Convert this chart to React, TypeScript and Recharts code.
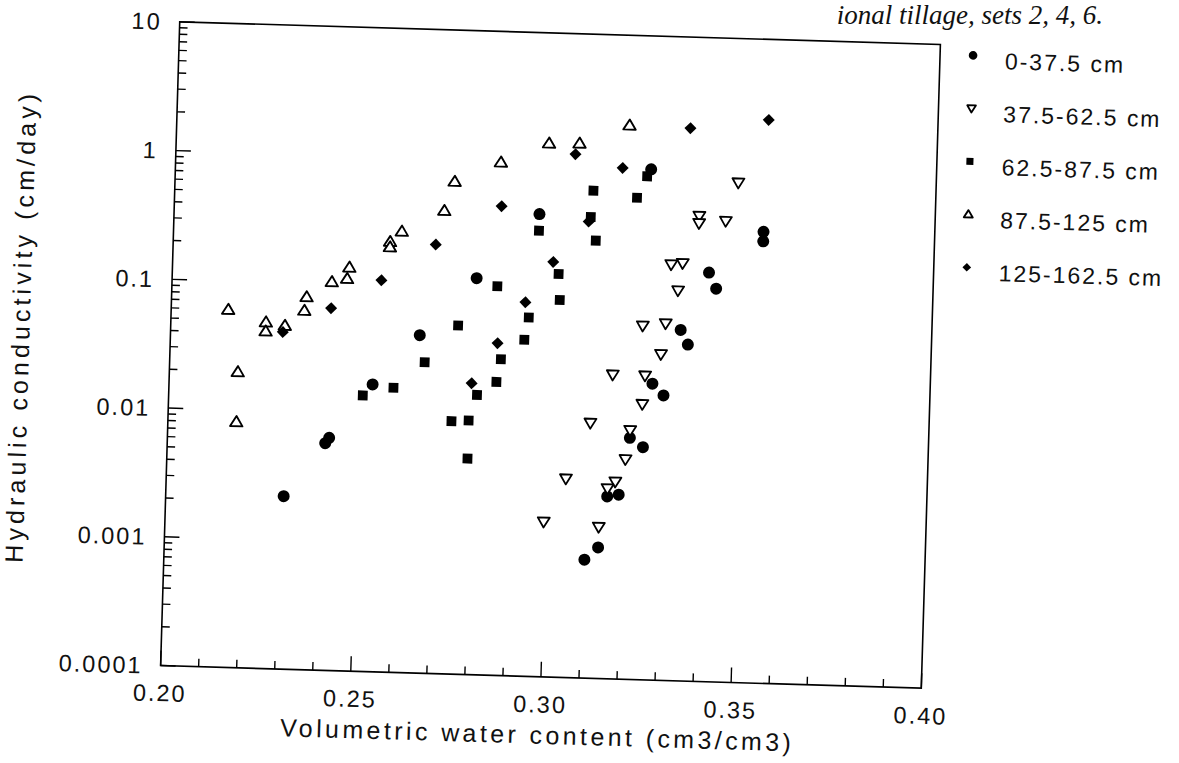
import React from 'react';
import { ScatterChart, Scatter, XAxis, YAxis, ReferenceArea, Legend } from 'recharts';

const FONT = '"Liberation Sans", Arial, Helvetica, sans-serif';
const SERIF = '"Liberation Serif", "Times New Roman", serif';

const seriesNames = ['0-37.5 cm', '37.5-62.5 cm', '62.5-87.5 cm', '87.5-125 cm', '125-162.5 cm'];
const seriesSymbols = ['circle', 'triDown', 'square', 'triUp', 'diamond'];

const depth0to37 = [
  { x: 0.296, y: 0.39 }, { x: 0.325, y: 0.92 }, { x: 0.355, y: 0.32 }, { x: 0.355, y: 0.27 },
  { x: 0.28, y: 0.12 }, { x: 0.2655, y: 0.042 }, { x: 0.2535, y: 0.017 }, { x: 0.2415, y: 0.0058 },
  { x: 0.2425, y: 0.0064 }, { x: 0.231, y: 0.0022 }, { x: 0.341, y: 0.15 }, { x: 0.343, y: 0.113 },
  { x: 0.334, y: 0.053 }, { x: 0.336, y: 0.041 }, { x: 0.327, y: 0.02 }, { x: 0.33, y: 0.0163 },
  { x: 0.3215, y: 0.0075 }, { x: 0.325, y: 0.0064 }, { x: 0.316, y: 0.0026 }, { x: 0.319, y: 0.0027 },
  { x: 0.314, y: 0.00104 }, { x: 0.3105, y: 0.00083 },
];

const depth37to62 = [
  { x: 0.348, y: 0.76 }, { x: 0.338, y: 0.41 }, { x: 0.338, y: 0.36 }, { x: 0.345, y: 0.38 },
  { x: 0.331, y: 0.17 }, { x: 0.334, y: 0.175 }, { x: 0.333, y: 0.107 }, { x: 0.324, y: 0.056 },
  { x: 0.33, y: 0.059 }, { x: 0.329, y: 0.034 }, { x: 0.3165, y: 0.023 }, { x: 0.325, y: 0.023 },
  { x: 0.3245, y: 0.0138 }, { x: 0.311, y: 0.0096 }, { x: 0.3215, y: 0.0086 }, { x: 0.3205, y: 0.0051 },
  { x: 0.305, y: 0.0035 }, { x: 0.318, y: 0.0034 }, { x: 0.316, y: 0.003 }, { x: 0.2995, y: 0.0016 },
  { x: 0.314, y: 0.0015 },
];

const depth62to87 = [
  { x: 0.296, y: 0.29 }, { x: 0.324, y: 0.81 }, { x: 0.31, y: 0.61 }, { x: 0.3215, y: 0.55 },
  { x: 0.3095, y: 0.38 }, { x: 0.311, y: 0.25 }, { x: 0.3015, y: 0.135 }, { x: 0.302, y: 0.085 },
  { x: 0.294, y: 0.061 }, { x: 0.293, y: 0.041 }, { x: 0.2855, y: 0.105 }, { x: 0.2755, y: 0.051 },
  { x: 0.287, y: 0.0285 }, { x: 0.286, y: 0.019 }, { x: 0.281, y: 0.0149 }, { x: 0.267, y: 0.026 },
  { x: 0.259, y: 0.0162 }, { x: 0.251, y: 0.0139 }, { x: 0.2745, y: 0.0092 }, { x: 0.279, y: 0.0094 },
  { x: 0.279, y: 0.00475 },
];

const depth87to125 = [
  { x: 0.319, y: 2.0 }, { x: 0.298, y: 1.39 }, { x: 0.306, y: 1.41 }, { x: 0.2855, y: 0.965 },
  { x: 0.2735, y: 0.667 }, { x: 0.271, y: 0.394 }, { x: 0.26, y: 0.266 }, { x: 0.257, y: 0.22 },
  { x: 0.257, y: 0.2 }, { x: 0.2465, y: 0.136 }, { x: 0.246, y: 0.111 }, { x: 0.242, y: 0.104 },
  { x: 0.2355, y: 0.0784 }, { x: 0.235, y: 0.0614 }, { x: 0.225, y: 0.0489 }, { x: 0.225, y: 0.0416 },
  { x: 0.23, y: 0.0465 }, { x: 0.215, y: 0.06 }, { x: 0.218, y: 0.0198 }, { x: 0.218, y: 0.0081 },
];

const depth125to162 = [
  { x: 0.286, y: 0.44 }, { x: 0.305, y: 1.16 }, { x: 0.3175, y: 0.93 }, { x: 0.309, y: 0.35 },
  { x: 0.335, y: 1.96 }, { x: 0.3555, y: 2.37 }, { x: 0.269, y: 0.214 }, { x: 0.3, y: 0.167 },
  { x: 0.293, y: 0.08 }, { x: 0.255, y: 0.11 }, { x: 0.242, y: 0.065 }, { x: 0.2295, y: 0.0414 },
  { x: 0.286, y: 0.038 }, { x: 0.2795, y: 0.0183 },
];

const xTickValues = [0.2, 0.25, 0.3, 0.35, 0.4];
const xTickLabels = ['0.20', '0.25', '0.30', '0.35', '0.40'];
const xMinorTickValues = [0.21, 0.22, 0.23, 0.24, 0.26, 0.27, 0.28, 0.29, 0.31, 0.32, 0.33, 0.34, 0.36, 0.37, 0.38, 0.39];
const yTickValues = [0.0001, 0.001, 0.01, 0.1, 1, 10];
const yTickLabels = ['0.0001', '0.001', '0.01', '0.1', '1', '10'];
const yMinorMultipliers = [2, 3, 4, 5, 6, 7, 8, 9];
const yMinorTickValues = yTickValues.slice(0, 5).flatMap((d) => yMinorMultipliers.map((m) => d * m));

const xAllTicks = [...xTickValues, ...xMinorTickValues].sort((a, b) => a - b);
const yAllTicks = [...yTickValues, ...yMinorTickValues].sort((a, b) => a - b);

const seriesData = [depth0to37, depth37to62, depth62to87, depth87to125, depth125to162];

const X_TICK_MARGIN = 19;
const Y_TICK_MARGIN = 18;
const MAJOR_LEN = 15;
const MINOR_LEN = 8;

function Marker({ kind, cx, cy, s }: { kind: string; cx: number; cy: number; s: number }) {
  if (cx == null || cy == null || isNaN(cx) || isNaN(cy)) return null;
  switch (kind) {
    case 'circle':
      return <circle cx={cx} cy={cy} r={6 * s} fill="#000" />;
    case 'triDown': {
      const w = 6 * s, t = 4.2 * s, b = 5.8 * s;
      return <path d={`M${cx - w},${cy - t}L${cx + w},${cy - t}L${cx},${cy + b}Z`} fill="#fff" stroke="#000" strokeWidth={1.8} strokeLinejoin="round" />;
    }
    case 'square': {
      const h = 4.9 * s;
      return <rect x={cx - h} y={cy - h} width={2 * h} height={2 * h} fill="#000" />;
    }
    case 'triUp': {
      const w = 6.2 * s, t = 5.8 * s, b = 4.3 * s;
      return <path d={`M${cx - w},${cy + b}L${cx + w},${cy + b}L${cx},${cy - t}Z`} fill="#fff" stroke="#000" strokeWidth={1.9} strokeLinejoin="round" />;
    }
    case 'diamond': {
      const h = 6 * s;
      return <path d={`M${cx},${cy - h}L${cx + h},${cy}L${cx},${cy + h}L${cx - h},${cy}Z`} fill="#000" />;
    }
    default:
      return null;
  }
}

const XTick = (props: any) => {
  const { x, y, payload } = props;
  const i = xTickValues.findIndex((v) => Math.abs(v - payload.value) < 1e-9);
  const y0 = y - X_TICK_MARGIN;
  const len = i >= 0 ? MAJOR_LEN : MINOR_LEN;
  return (
    <g>
      <line x1={x} y1={y0} x2={x} y2={y0 - len} stroke="#000" strokeWidth={1.4} />
      {i >= 0 && (
        <text x={x} y={y} dy="0.71em" textAnchor="middle" fontFamily={FONT} fontSize={23.5} letterSpacing={2} fill="#111">
          {xTickLabels[i]}
        </text>
      )}
    </g>
  );
};

const YTick = (props: any) => {
  const { x, y, payload } = props;
  const i = yTickValues.findIndex((v) => Math.abs(Math.log10(v) - Math.log10(payload.value)) < 1e-6);
  const x0 = x + Y_TICK_MARGIN;
  const len = i >= 0 ? MAJOR_LEN : MINOR_LEN;
  return (
    <g>
      <line x1={x0} y1={y} x2={x0 + len} y2={y} stroke="#000" strokeWidth={1.4} />
      {i >= 0 && (
        <text x={x} y={y} dy="0.36em" textAnchor="end" fontFamily={FONT} fontSize={23.5} letterSpacing={2} fill="#111">
          {yTickLabels[i]}
        </text>
      )}
    </g>
  );
};

const renderLegend = () => (
  <svg width={240} height={300} style={{ position: 'absolute', left: 940, top: 10, overflow: 'visible' }}>
    {seriesNames.map((name, i) => {
      const cy = 38 + 53 * i;
      return (
        <g key={name}>
          <Marker kind={seriesSymbols[i]} cx={24} cy={cy - 5} s={0.72} />
          <text x={56} y={cy + 8} fontFamily={FONT} fontSize={23} letterSpacing={2} fill="#111">{name}</text>
        </g>
      );
    })}
  </svg>
);

export default function App() {
  return (
    <div style={{ position: 'absolute', left: 0, top: 0, width: 1179, height: 763, overflow: 'hidden', background: '#fff' }}>
      <svg width={1179} height={763} style={{ position: 'absolute', left: 0, top: 0 }}>
        <text x={1103} y={24} textAnchor="end" fontFamily={SERIF} fontStyle="italic" fontSize={27} fill="#111">
          ional tillage, sets 2, 4, 6.
        </text>
      </svg>
      <div style={{ position: 'absolute', left: 0, top: 0, width: 1179, height: 763, transform: 'rotate(1.7deg)', transformOrigin: '551px 355px' }}>
        <ScatterChart width={1179} height={763} margin={{ top: 33, right: 248, bottom: 0, left: 0 }}>
          <XAxis
            xAxisId="x" dataKey="x" type="number" domain={[0.2, 0.4]} ticks={xAllTicks} interval={0}
            allowDataOverflow tickLine={false} axisLine={false} tickSize={0} tickMargin={X_TICK_MARGIN} height={86}
            tick={<XTick />}
            label={{
              content: (p: any) => {
                const vb = p.viewBox || { x: 170, y: 677, width: 761, height: 86 };
                return (
                  <text x={vb.x + vb.width / 2 - 2} y={vb.y + 67} textAnchor="middle" fontFamily={FONT} fontSize={25} letterSpacing={3.4} fill="#111">
                    Volumetric water content (cm3/cm3)
                  </text>
                );
              },
            }}
          />
          <YAxis
            yAxisId="y" dataKey="y" type="number" scale="log" domain={[0.0001, 10]} ticks={yAllTicks} interval={0}
            allowDataOverflow tickLine={false} axisLine={false} tickSize={0} tickMargin={Y_TICK_MARGIN} width={170}
            tick={<YTick />}
            label={{
              content: (p: any) => {
                const vb = p.viewBox || { x: 0, y: 33, width: 170, height: 644 };
                const cx = vb.x + 20;
                const cy = vb.y + vb.height / 2 - 13;
                return (
                  <text x={cx} y={cy} dy="0.36em" transform={`rotate(-90 ${cx} ${cy})`} textAnchor="middle" fontFamily={FONT} fontSize={25} letterSpacing={4.1} fill="#111">
                    Hydraulic conductivity (cm/day)
                  </text>
                );
              },
            }}
          />
          <ReferenceArea xAxisId="x" yAxisId="y" x1={0.2} x2={0.4} y1={0.0001} y2={10} fill="none" fillOpacity={0} stroke="#000" strokeWidth={1.6} ifOverflow="visible" />
          {seriesData.map((data, i) => (
            <Scatter
              key={seriesNames[i]}
              name={seriesNames[i]}
              data={data}
              xAxisId="x"
              yAxisId="y"
              isAnimationActive={false}
              shape={(p: any) => <Marker kind={seriesSymbols[i]} cx={p.cx} cy={p.cy} s={1} />}
            />
          ))}
          <Legend
            content={renderLegend}
            wrapperStyle={{ position: 'absolute', left: 0, top: 0, width: 0, height: 0, overflow: 'visible' }}
          />
        </ScatterChart>
      </div>
    </div>
  );
}
